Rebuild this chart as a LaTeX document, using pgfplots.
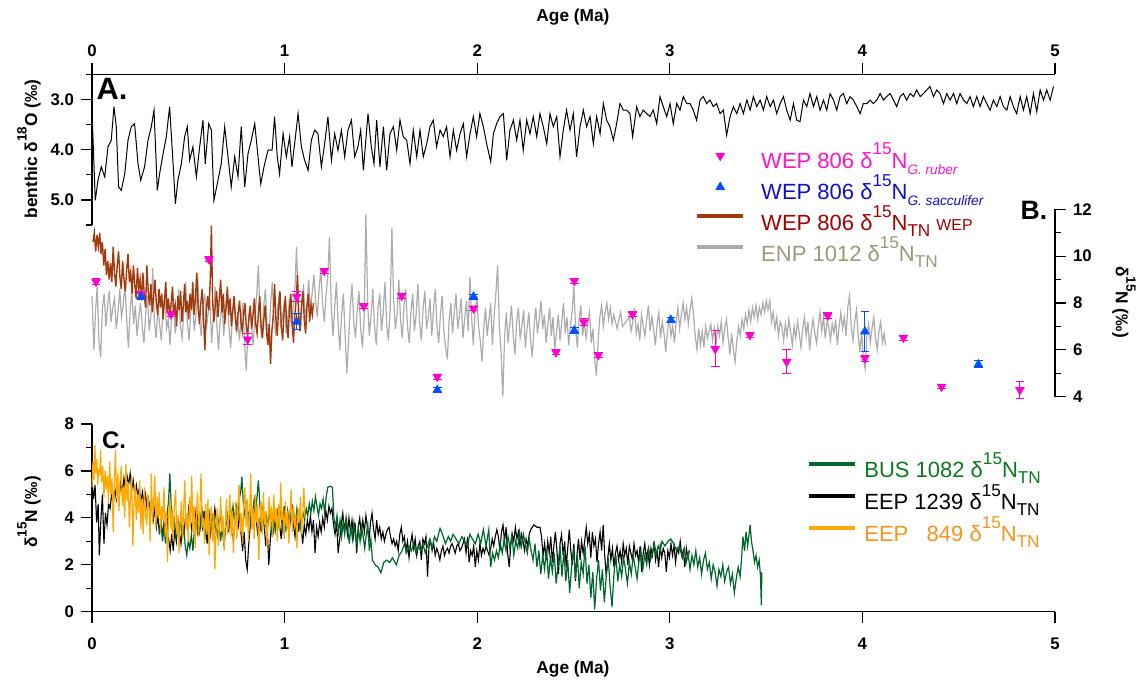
\documentclass[border=0pt]{standalone}
\usepackage{pgfplots}
\pgfplotsset{compat=1.18}
\usepackage{fontspec}
\setmainfont{Liberation Sans}
\usepackage{graphicx}
\definecolor{pinkc}{RGB}{255,0,204}
\definecolor{pinkt}{RGB}{255,20,200}
\definecolor{bluec}{RGB}{0,80,255}
\definecolor{bluet}{RGB}{16,16,200}
\definecolor{brownc}{RGB}{163,58,11}
\definecolor{brownt}{RGB}{165,0,0}
\definecolor{grayc}{RGB}{172,172,172}
\definecolor{grayt}{RGB}{154,154,120}
\definecolor{greenc}{RGB}{0,102,43}
\definecolor{greent}{RGB}{11,122,31}
\definecolor{orangec}{RGB}{255,168,0}
\definecolor{oranget}{RGB}{247,148,30}
\newcommand\su[1]{\raisebox{0.6em}{\scalebox{0.78}{#1}}}
\newcommand\sbb[1]{\raisebox{-0.28em}{\scalebox{0.78}{#1}}}
\newcommand\sbi[1]{\raisebox{-0.3em}{\scalebox{0.62}{\itshape #1}}}
\newcommand\lbl{\fontsize{8.65}{10}\selectfont\bfseries}
\newcommand\ticklbl{\fontsize{8.4}{10}\selectfont\bfseries}
\newcommand\legfont{\fontsize{11}{12}\selectfont}
\pgfplotsset{
  common/.style={scale only axis, width=481.5pt, xmin=0, xmax=5, clip=false,
    tick align=outside, major tick length=5.5pt, minor tick length=3pt,
    tick label style={font=\ticklbl},
    axis line style={line width=0.6pt,-}, every tick/.style={line width=0.6pt, black}},
  markleg/.style={legend image code/.code={\path[draw=none,fill=none] (0pt,3pt) -- (22.8pt,3pt); \draw[##1] plot coordinates {(11.4pt,3pt)};}},
  lineleg/.style={legend image code/.code={\draw[##1, line width=2pt] (0pt,#1) -- (22.8pt,#1);}},
}
\begin{document}
\begin{tikzpicture}
\useasboundingbox (0,0) rectangle (572.5pt,340.5pt);
% ---------------- Panel A (delta18O axis runs downward: plotted as -value) ----------------
\begin{axis}[common,
  at={(46pt,228pt)}, anchor=south west, height=75.25pt,
  ymin=-5.5, ymax=-2.5,
  axis x line*=top, axis y line*=left,
  xtick={0,1,2,3,4,5}, xticklabels={0,1,2,3,4,5},
  ytick={-5,-4,-3}, yticklabels={5.0,4.0,3.0}, minor ytick={-5.5,-4.5,-3.5,-2.5},
]
\addplot[black, line width=0.5pt, y filter/.expression={-y}] coordinates {
(0.000,3.24) (0.017,5.01) (0.031,4.61) (0.048,4.34) (0.066,4.54) (0.083,3.94) (0.100,3.81) (0.114,3.14) (0.126,3.54) (0.138,4.74) (0.152,4.81) (0.170,4.48) (0.187,3.81) (0.204,3.54) (0.221,3.48) (0.239,4.28) (0.253,4.61) (0.273,4.34) (0.291,3.81) (0.308,3.54) (0.322,3.21) (0.339,4.81) (0.351,4.48) (0.369,4.08) (0.386,3.74) (0.403,3.14) (0.421,4.28) (0.433,5.08) (0.446,4.61) (0.464,4.28) (0.481,3.74) (0.495,3.54) (0.507,4.21) (0.524,3.94) (0.542,4.54) (0.559,3.94) (0.576,3.41) (0.588,4.28) (0.606,3.48) (0.620,3.61) (0.633,5.01) (0.654,4.61) (0.671,4.28) (0.689,3.54) (0.706,4.14) (0.723,4.74) (0.741,4.14) (0.758,4.54) (0.775,3.54) (0.793,4.74) (0.810,4.08) (0.827,3.81) (0.845,3.48) (0.862,4.14) (0.876,4.68) (0.893,4.34) (0.914,4.01) (0.935,4.01) (0.948,3.34) (0.962,4.14) (0.974,4.48) (0.992,3.68) (1.009,4.14) (1.026,3.74) (1.038,4.34) (1.052,3.88) (1.070,3.28) (1.087,3.94) (1.104,4.21) (1.122,4.41) (1.139,3.81) (1.156,3.61) (1.173,3.68) (1.191,4.34) (1.208,3.88) (1.225,3.34) (1.243,4.21) (1.260,3.68) (1.277,4.01) (1.295,3.61) (1.312,4.14) (1.329,3.61) (1.347,3.41) (1.364,4.14) (1.381,3.94) (1.395,3.61) (1.409,4.41) (1.433,3.28) (1.450,3.94) (1.464,4.28) (1.478,3.41) (1.495,4.34) (1.513,3.54) (1.530,4.41) (1.547,3.68) (1.565,3.54) (1.582,4.01) (1.599,3.41) (1.616,3.74) (1.634,3.81) (1.651,4.28) (1.668,3.61)
(1.686,4.14) (1.703,3.61) (1.720,4.14) (1.738,3.88) (1.755,3.54) (1.772,3.41) (1.789,3.94) (1.807,3.61) (1.824,3.74) (1.841,3.54) (1.859,4.14) (1.876,3.61) (1.893,4.01) (1.911,3.68) (1.928,3.48) (1.945,4.14) (1.963,3.68) (1.980,3.34) (1.997,3.74) (2.014,3.28) (2.032,3.54) (2.049,3.88) (2.070,4.24) (2.084,3.68) (2.101,3.48) (2.118,3.34) (2.136,3.28) (2.153,4.21) (2.170,3.61) (2.188,3.41) (2.205,3.81) (2.222,3.41) (2.239,4.01) (2.257,3.41) (2.274,3.68) (2.291,3.34) (2.309,3.74) (2.326,3.28) (2.343,3.54) (2.361,3.88) (2.378,3.28) (2.395,3.54) (2.413,3.34) (2.430,4.14) (2.447,3.61) (2.464,3.21) (2.482,3.61) (2.499,3.28) (2.516,4.14) (2.534,3.54) (2.551,3.21) (2.568,3.54) (2.586,3.34) (2.603,3.88) (2.620,3.34) (2.638,3.68) (2.655,3.08) (2.672,3.41) (2.689,3.54) (2.707,3.81) (2.724,3.48) (2.741,3.08) (2.759,3.21) (2.776,3.21) (2.793,3.28) (2.807,3.74) (2.828,3.14) (2.845,3.34) (2.862,3.21) (2.880,3.28) (2.897,3.34) (2.914,3.21) (2.932,3.48) (2.949,2.94) (2.966,3.14) (2.984,3.34) (3.001,3.08) (3.018,3.48) (3.036,3.08) (3.053,3.21) (3.070,2.94) (3.088,3.08) (3.105,3.08) (3.122,3.21) (3.139,3.41) (3.157,3.01) (3.174,2.94) (3.191,3.08) (3.209,3.01) (3.226,3.14) (3.243,3.08) (3.261,3.28) (3.278,3.21) (3.295,3.71) (3.313,3.34)
(3.330,3.14) (3.348,3.28) (3.365,3.08) (3.382,3.28) (3.400,3.01) (3.417,3.21) (3.434,2.94) (3.451,3.14) (3.469,3.01) (3.486,3.21) (3.503,2.94) (3.521,3.14) (3.538,3.01) (3.555,3.28) (3.573,3.08) (3.590,2.94) (3.607,3.21) (3.625,3.41) (3.642,3.08) (3.659,3.41) (3.676,3.44) (3.694,3.01) (3.711,3.14) (3.728,2.88) (3.746,3.14) (3.763,2.94) (3.780,3.21) (3.798,3.01) (3.815,3.21) (3.832,2.88) (3.850,3.01) (3.867,3.21) (3.884,2.94) (3.901,2.88) (3.919,3.08) (3.936,2.94) (3.953,3.01) (3.971,3.14) (3.988,3.28) (4.005,3.08) (4.023,3.08) (4.040,3.01) (4.057,3.08) (4.075,3.01) (4.092,2.88) (4.109,3.01) (4.126,2.94) (4.144,2.88) (4.161,3.01) (4.178,3.14) (4.196,2.94) (4.213,2.88) (4.230,3.01) (4.248,2.88) (4.265,2.94) (4.282,2.81) (4.300,2.94) (4.317,2.88) (4.334,2.81) (4.351,2.74) (4.369,2.94) (4.386,2.81) (4.403,2.88) (4.421,3.08) (4.438,2.88) (4.455,3.01) (4.473,2.88) (4.490,3.08) (4.507,2.88) (4.525,3.01) (4.542,3.08) (4.559,2.94) (4.576,3.14) (4.594,2.94) (4.611,3.14) (4.628,2.94) (4.646,3.08) (4.663,3.21) (4.680,3.01) (4.698,3.14) (4.715,2.94) (4.732,3.14) (4.750,3.21) (4.767,2.94) (4.784,3.14) (4.801,3.28) (4.819,2.94) (4.836,3.21) (4.853,2.94) (4.871,3.28) (4.888,2.88) (4.905,3.24) (4.923,2.81) (4.940,3.01) (4.957,2.81) (4.975,3.01) (4.992,2.74)
};
\end{axis}
% ---------------- Panel B ----------------
\begin{axis}[common,
  at={(46pt,142.15pt)}, anchor=south west, height=93.7pt,
  ymin=4, ymax=12,
  axis x line=none, axis y line*=right,
  ytick={4,6,8,10,12}, yticklabels={4,6,8,10,12}, minor ytick={5,7,9,11},
  legend style={at={(0.6262,1.339)}, anchor=north west, draw=none, fill=none,
    font=\legfont, inner sep=0pt, row sep=0pt,
    nodes={inner sep=0pt, text height=11pt, text depth=4.6pt},
    /tikz/every odd column/.append style={column sep=8.1pt}},
  legend cell align=left,
  lineleg=4pt,
]
\addlegendimage{only marks, mark=triangle*, pinkc, mark size=2.4pt, mark options={rotate=180}, markleg}
\addlegendentry{\textcolor{pinkt}{WEP 806 δ\su{15}N\sbi{G. ruber}}}
\addlegendimage{only marks, mark=triangle*, bluec, mark size=2.4pt, markleg}
\addlegendentry{\textcolor{bluet}{WEP 806 δ\su{15}N\sbi{G. sacculifer}}}
\addlegendimage{brownc}
\addlegendentry{\textcolor{brownt}{WEP 806 δ\su{15}N\sbb{TN} \scalebox{0.72}{WEP}}}
\addlegendimage{grayc}
\addlegendentry{\textcolor{grayt}{ENP 1012 δ\su{15}N\sbb{TN}}}
% gray ENP 1012
\addplot[grayc, line width=0.6pt, forget plot] coordinates {
(0.000,8.3) (0.010,6.0) (0.018,7.6) (0.027,8.7) (0.036,6.4) (0.045,5.7) (0.054,7.8) (0.063,8.4) (0.072,7.0) (0.081,7.9) (0.090,8.5) (0.099,7.2) (0.108,7.8) (0.117,8.2) (0.126,6.9) (0.135,7.6) (0.144,8.6) (0.153,7.4) (0.162,7.9) (0.171,8.8) (0.180,7.3) (0.189,6.1) (0.198,7.7) (0.207,8.5) (0.216,7.1) (0.225,7.9) (0.234,6.6) (0.243,7.4) (0.252,8.0) (0.261,7.0) (0.270,6.3) (0.279,7.6) (0.288,8.3) (0.297,6.8) (0.306,7.5) (0.315,9.5) (0.324,7.2) (0.333,6.5) (0.342,7.8) (0.351,7.1) (0.360,6.4) (0.369,7.7) (0.378,8.4) (0.387,6.9) (0.396,7.3) (0.405,6.2) (0.414,7.5) (0.423,8.1) (0.432,6.7) (0.441,7.4) (0.450,8.6) (0.459,7.0) (0.468,6.5) (0.477,7.7) (0.486,8.9) (0.495,7.2) (0.504,6.4) (0.513,7.6) (0.522,8.2) (0.531,6.8) (0.540,7.5) (0.549,9.1) (0.558,7.3) (0.567,6.6) (0.576,7.9) (0.585,8.4) (0.594,6.9) (0.603,7.6) (0.612,8.1) (0.621,6.3) (0.630,7.4) (0.639,8.7) (0.648,7.1) (0.657,6.0) (0.666,7.3) (0.675,8.0) (0.684,6.6) (0.693,7.7) (0.702,8.5) (0.711,7.0) (0.720,6.1) (0.729,7.4) (0.738,8.2) (0.747,6.8) (0.756,7.6) (0.765,6.4) (0.774,7.2) (0.783,8.0) (0.792,6.3) (0.801,5.1) (0.810,6.9) (0.819,7.8) (0.828,7.0) (0.837,6.2) (0.846,7.5) (0.855,8.3) (0.864,9.6) (0.873,7.2) (0.882,6.5) (0.891,7.8) (0.900,8.6) (0.909,7.1) (0.918,6.4) (0.927,7.9) (0.936,8.9) (0.945,7.3) (0.954,6.6) (0.963,7.7) (0.972,8.4) (0.981,6.9) (0.990,7.5) (0.999,8.1) (1.008,6.7) (1.017,7.4) (1.026,8.2) (1.035,7.0) (1.044,7.8) (1.053,8.5) (1.062,10.4) (1.071,7.6) (1.080,6.8) (1.089,7.9) (1.098,8.8) (1.107,7.3) (1.116,8.0) (1.125,9.0) (1.134,7.7) (1.143,8.4) (1.152,9.2) (1.161,8.1) (1.170,7.4) (1.179,8.6) (1.188,9.4) (1.197,8.0) (1.206,7.2) (1.215,8.3) (1.224,9.1) (1.233,10.8) (1.242,7.9) (1.251,6.6) (1.260,7.8) (1.269,8.9) (1.278,7.1) (1.287,6.0) (1.296,7.5) (1.305,8.4) (1.314,6.7) (1.323,5.0) (1.332,6.4) (1.341,7.8) (1.350,8.8) (1.359,7.2) (1.368,6.5) (1.377,7.7) (1.386,8.5) (1.395,6.9) (1.404,6.1) (1.413,7.4) (1.422,11.8) (1.431,8.0) (1.440,6.6) (1.449,7.5) (1.458,8.6) (1.467,7.0) (1.476,6.2) (1.485,7.8) (1.494,8.4) (1.503,6.8) (1.512,7.6) (1.521,8.9) (1.530,7.1) (1.539,6.4) (1.548,7.7) (1.557,11.2) (1.566,8.2) (1.575,6.9) (1.584,7.5) (1.593,9.0) (1.602,7.3) (1.611,6.5) (1.620,7.9) (1.629,8.6) (1.638,7.0) (1.647,6.3) (1.656,7.6) (1.665,8.4) (1.674,6.8) (1.683,7.5) (1.692,8.8) (1.701,7.2) (1.710,6.4) (1.719,7.8) (1.728,8.5) (1.737,6.9) (1.746,7.4) (1.755,8.2) (1.764,6.6) (1.773,7.7) (1.782,8.6) (1.791,7.0) (1.800,6.3) (1.809,7.5) (1.818,8.3) (1.827,6.8) (1.836,6.1) (1.845,5.6) (1.854,7.2) (1.863,8.0) (1.872,6.7) (1.881,7.6) (1.890,8.4) (1.899,6.9) (1.908,7.5) (1.917,8.2) (1.926,6.5) (1.935,7.3) (1.944,8.1) (1.953,6.8) (1.962,9.1) (1.971,7.4) (1.980,6.2) (1.989,7.6) (1.998,8.3) (2.007,7.0) (2.016,6.4) (2.025,5.5) (2.034,6.9) (2.043,7.8) (2.052,6.6) (2.061,7.3) (2.070,8.0) (2.079,6.2) (2.088,7.5) (2.097,8.4) (2.106,9.6) (2.115,7.0) (2.124,5.9) (2.133,4.0) (2.142,6.5) (2.151,7.6) (2.160,6.3) (2.169,7.1) (2.178,7.9) (2.187,6.6) (2.196,5.8) (2.205,7.2) (2.214,7.8) (2.223,6.5) (2.232,7.0) (2.241,7.7) (2.250,6.1) (2.259,6.9) (2.268,7.6) (2.277,6.4) (2.286,5.7) (2.295,7.0) (2.304,7.8) (2.313,6.7) (2.322,7.3) (2.331,8.1) (2.340,6.9) (2.349,7.5) (2.358,6.3) (2.367,7.1) (2.376,7.8) (2.385,6.6) (2.394,7.4) (2.403,6.0) (2.412,6.8) (2.421,7.5) (2.430,6.4) (2.439,7.2) (2.448,8.0) (2.457,6.7) (2.466,7.4) (2.475,6.2) (2.484,7.0) (2.493,7.7) (2.502,8.7) (2.511,6.9) (2.520,6.1) (2.529,7.3) (2.538,7.9) (2.547,6.6) (2.556,7.2) (2.565,6.5) (2.574,7.1) (2.583,7.6) (2.592,6.3) (2.601,6.9) (2.610,5.6) (2.619,4.9) (2.628,6.4) (2.637,7.4) (2.646,7.9) (2.655,7.0) (2.664,7.6) (2.673,8.0) (2.682,7.3) (2.691,7.8) (2.700,7.1) (2.709,7.5) (2.718,7.2) (2.727,6.9) (2.736,7.3) (2.745,7.6) (2.754,7.0) (2.790,7.4) (2.799,6.8) (2.808,7.2) (2.817,7.8) (2.826,6.7) (2.835,7.1) (2.844,6.4) (2.853,7.5) (2.862,7.0) (2.871,6.6) (2.880,7.3) (2.889,7.9) (2.898,6.8) (2.907,7.4) (2.916,6.9) (2.925,6.2) (2.934,7.1) (2.943,7.6) (2.952,6.5) (2.961,7.2) (2.970,6.7) (2.979,5.9) (2.988,6.8) (2.997,7.4) (3.006,6.6) (3.015,7.0) (3.024,6.3) (3.033,7.2) (3.042,7.8) (3.051,6.9) (3.060,7.5) (3.069,8.0) (3.078,7.3) (3.087,7.8) (3.096,7.1) (3.105,7.7) (3.114,8.2) (3.123,7.5) (3.132,6.6) (3.141,6.0) (3.150,6.9) (3.159,6.2) (3.168,6.8) (3.177,6.1) (3.186,7.0) (3.195,6.5) (3.204,6.8) (3.213,7.1) (3.222,6.4) (3.231,6.9) (3.240,6.2) (3.249,7.0) (3.258,6.6) (3.267,7.2) (3.276,6.3) (3.285,6.9) (3.294,7.3) (3.303,6.5) (3.312,5.8) (3.321,6.7) (3.330,6.0) (3.339,5.5) (3.348,6.4) (3.357,7.0) (3.366,6.6) (3.375,7.3) (3.384,6.9) (3.393,7.5) (3.402,7.1) (3.411,7.7) (3.420,7.2) (3.429,7.8) (3.438,7.4) (3.447,7.9) (3.456,7.3) (3.465,7.8) (3.474,7.5) (3.483,8.0) (3.492,7.6) (3.501,8.1) (3.510,7.7) (3.519,8.1) (3.528,7.2) (3.537,7.6) (3.546,6.9) (3.555,7.4) (3.564,6.6) (3.573,7.2) (3.582,7.0) (3.591,6.4) (3.600,7.1) (3.609,6.6) (3.618,7.3) (3.627,6.8) (3.636,6.2) (3.645,7.0) (3.654,6.5) (3.663,7.2) (3.672,6.7) (3.681,6.1) (3.690,6.9) (3.699,7.4) (3.708,6.6) (3.717,7.2) (3.726,6.0) (3.735,6.8) (3.744,7.3) (3.753,6.7) (3.762,6.3) (3.771,7.0) (3.780,7.6) (3.789,6.8) (3.798,7.4) (3.807,6.5) (3.816,7.2) (3.825,7.0) (3.834,6.4) (3.843,7.1) (3.852,6.7) (3.861,7.3) (3.870,6.2) (3.879,7.0) (3.888,7.6) (3.897,6.9) (3.906,7.4) (3.915,6.6) (3.924,7.8) (3.933,8.3) (3.942,7.0) (3.951,6.4) (3.960,7.2) (3.969,7.7) (3.978,6.6) (3.987,5.9) (3.996,6.8) (4.005,5.6) (4.014,5.2) (4.023,6.6) (4.032,7.1) (4.041,6.3) (4.050,6.9) (4.059,7.4) (4.068,6.5) (4.077,6.0) (4.086,6.8) (4.095,7.2) (4.104,6.3) (4.113,6.7) (4.120,6.2)
};
% brown WEP 806 TN
\addplot[brownc, line width=0.7pt, forget plot] coordinates {
(0.005,10.6) (0.012,11.0) (0.019,10.2) (0.026,10.9) (0.033,10.4) (0.040,11.0) (0.047,10.1) (0.054,10.6) (0.061,9.6) (0.068,10.3) (0.075,9.2) (0.082,9.8) (0.089,9.0) (0.096,9.7) (0.103,8.9) (0.110,10.4) (0.117,9.3) (0.124,8.7) (0.131,9.6) (0.138,10.2) (0.145,9.1) (0.152,8.6) (0.159,9.8) (0.166,9.0) (0.173,8.5) (0.180,9.4) (0.187,10.1) (0.194,8.9) (0.201,9.3) (0.208,8.4) (0.215,9.6) (0.222,8.8) (0.229,8.2) (0.236,9.5) (0.243,8.6) (0.250,9.0) (0.257,8.1) (0.264,9.3) (0.271,8.4) (0.278,7.8) (0.285,9.6) (0.292,8.5) (0.299,7.9) (0.306,8.8) (0.313,7.6) (0.320,8.3) (0.327,9.0) (0.334,8.0) (0.341,7.5) (0.348,8.6) (0.355,7.8) (0.362,8.4) (0.369,7.3) (0.376,8.1) (0.383,8.9) (0.390,7.6) (0.397,8.2) (0.404,7.4) (0.411,8.0) (0.418,8.7) (0.425,7.5) (0.432,7.9) (0.439,7.0) (0.446,8.3) (0.453,7.7) (0.460,8.5) (0.467,7.2) (0.474,7.9) (0.481,8.8) (0.488,7.6) (0.495,8.1) (0.502,7.3) (0.509,8.4) (0.516,7.7) (0.523,8.9) (0.530,7.5) (0.537,8.2) (0.544,9.3) (0.551,7.8) (0.558,7.1) (0.565,8.0) (0.572,8.6) (0.579,7.4) (0.586,6.0) (0.593,7.6) (0.600,8.3) (0.607,7.7) (0.614,9.0) (0.620,11.3) (0.626,8.1) (0.633,7.2) (0.640,7.9) (0.647,8.5) (0.654,7.4) (0.661,8.2) (0.668,9.0) (0.675,7.6) (0.682,8.4) (0.689,7.1) (0.696,7.8) (0.703,8.7) (0.710,7.5) (0.717,8.2) (0.724,7.0) (0.731,7.7) (0.738,8.3) (0.745,7.3) (0.752,6.9) (0.759,7.6) (0.766,8.1) (0.773,7.2) (0.780,6.8) (0.787,7.5) (0.794,8.0) (0.801,7.0) (0.808,6.6) (0.815,7.4) (0.822,7.9) (0.829,6.9) (0.836,7.5) (0.843,8.2) (0.850,7.1) (0.857,6.7) (0.864,7.6) (0.871,8.3) (0.878,7.0) (0.885,6.5) (0.892,7.3) (0.899,7.9) (0.906,6.8) (0.913,6.2) (0.920,7.1) (0.927,5.4) (0.934,6.8) (0.941,7.5) (0.948,8.8) (0.955,7.3) (0.962,6.6) (0.969,7.8) (0.976,8.5) (0.983,7.0) (0.990,6.4) (0.997,7.6) (1.004,8.3) (1.011,7.1) (1.018,6.5) (1.025,7.7) (1.032,8.4) (1.039,7.2) (1.046,6.3) (1.053,7.5) (1.060,8.1) (1.067,9.2) (1.074,7.4) (1.081,6.8) (1.088,7.9) (1.095,8.5) (1.102,7.3) (1.109,6.7) (1.116,7.8) (1.123,8.4) (1.130,7.2) (1.137,7.9) (1.144,7.5) (1.150,8.0)
};
% pink G. ruber
\addplot[pinkc, only marks, mark=triangle*, mark size=2.4pt, mark options={rotate=180}, forget plot,
  error bars/.cd, y dir=both, y explicit, error bar style={pinkc, line width=0.5pt},
  error mark options={rotate=90, pinkc, mark size=2.2pt, line width=0.5pt}] coordinates {
(0.021,8.91) +- (0,0.12) (0.254,8.37) +- (0,0.12) (0.410,7.52) +- (0,0.10) (0.607,9.87) +- (0,0.10) (0.808,6.45) +- (0,0.23) (1.063,8.27) +- (0,0.20) (1.206,9.37) +- (0,0.10) (1.411,7.87) +- (0,0.10) (1.608,8.31) +- (0,0.10) (1.793,4.85) +- (0,0.10) (1.981,7.77) +- (0,0.10) (2.409,5.90) +- (0,0.10) (2.504,8.94) +- (0,0.10) (2.554,7.18) +- (0,0.15) (2.629,5.78) +- (0,0.12) (2.806,7.52) +- (0,0.10) (3.236,6.04) +- (0,0.77) (3.416,6.63) +- (0,0.10) (3.607,5.49) +- (0,0.51) (3.820,7.46) +- (0,0.12) (4.013,5.64) +- (0,0.12) (4.213,6.52) +- (0,0.10) (4.411,4.43) +- (0,0.10) (4.818,4.29) +- (0,0.36)
};
% blue G. sacculifer
\addplot[bluec, only marks, mark=triangle*, mark size=2.4pt, forget plot,
  error bars/.cd, y dir=both, y explicit, error bar style={bluec, line width=0.5pt},
  error mark options={rotate=90, bluec, mark size=2.2pt, line width=0.5pt}] coordinates {
(0.254,8.27) +- (0,0.12) (1.063,7.20) +- (0,0.34) (1.793,4.29) +- (0,0.10) (1.981,8.27) +- (0,0.10) (2.504,6.82) +- (0,0.12) (3.006,7.27) +- (0,0.10) (4.013,6.78) +- (0,0.87) (4.602,5.38) +- (0,0.15)
};
\end{axis}
% ---------------- Panel C ----------------
\begin{axis}[common,
  at={(46pt,34.65pt)}, anchor=south west, height=93.85pt,
  ymin=0, ymax=8,
  axis x line*=bottom, axis y line*=left,
  xtick={0,1,2,3,4,5}, xticklabels={0,1,2,3,4,5},
  xticklabel style={yshift=-4pt},
  ytick={0,2,4,6,8}, yticklabels={0,2,4,6,8}, minor ytick={1,3,5,7},
  legend style={at={(0.7422,0.8333)}, anchor=north west, draw=none, fill=none,
    font=\legfont, inner sep=0pt, row sep=0pt,
    nodes={inner sep=0pt, text height=11pt, text depth=4.9pt},
    /tikz/every odd column/.append style={column sep=3.8pt}},
  legend cell align=left,
  lineleg=3.7pt,
]
\addlegendimage{greenc}
\addlegendentry{\textcolor{greent}{BUS 1082 δ\su{15}N\sbb{TN}}}
\addlegendimage{black}
\addlegendentry{EEP 1239 δ\su{15}N\sbb{TN}}
\addlegendimage{orangec}
\addlegendentry{\textcolor{oranget}{EEP \hphantom{1}849 δ\su{15}N\sbb{TN}}}
% black EEP 1239
\addplot[black, line width=0.55pt, forget plot] coordinates {
(0.000,5.6) (0.008,4.8) (0.016,5.4) (0.024,3.8) (0.032,4.6) (0.038,2.4) (0.046,3.9) (0.054,5.0) (0.062,2.9) (0.070,4.2) (0.078,3.7) (0.086,4.6) (0.094,4.4) (0.102,5.0) (0.110,4.6) (0.118,5.3) (0.126,4.8) (0.134,5.4) (0.142,4.9) (0.150,5.6) (0.158,5.1) (0.166,5.7) (0.174,5.2) (0.182,5.8) (0.190,5.4) (0.198,5.9) (0.206,5.2) (0.214,5.6) (0.222,5.0) (0.230,5.4) (0.238,4.9) (0.246,5.3) (0.254,4.7) (0.262,5.1) (0.270,4.6) (0.278,5.0) (0.286,4.4) (0.294,4.8) (0.302,4.3) (0.310,4.7) (0.318,3.9) (0.326,4.4) (0.334,3.6) (0.342,4.1) (0.350,3.3) (0.358,3.9) (0.366,3.2) (0.374,3.8) (0.382,3.4) (0.390,4.0) (0.398,3.1) (0.406,2.6) (0.414,3.3) (0.422,2.6) (0.430,3.5) (0.438,3.0) (0.446,3.9) (0.454,3.4) (0.462,2.9) (0.470,3.7) (0.478,3.3) (0.486,4.1) (0.494,3.6) (0.502,4.4) (0.510,3.9) (0.518,3.5) (0.526,4.2) (0.534,3.7) (0.542,4.5) (0.550,3.8) (0.558,3.4) (0.566,4.1) (0.574,3.6) (0.582,4.3) (0.590,3.5) (0.598,2.9) (0.606,3.8) (0.614,3.3) (0.622,4.2) (0.630,3.6) (0.638,4.4) (0.646,3.9) (0.654,3.1) (0.662,3.7) (0.670,4.3) (0.678,3.5) (0.686,2.8) (0.694,3.6) (0.702,4.1) (0.710,3.4) (0.718,4.6) (0.726,3.7) (0.734,3.0) (0.742,3.9) (0.750,4.4) (0.758,3.5) (0.766,4.2) (0.774,3.3) (0.782,2.6) (0.790,3.4) (0.798,2.2) (0.806,1.8) (0.814,2.9) (0.822,3.7) (0.830,4.3) (0.838,3.6) (0.846,4.6) (0.854,3.8) (0.862,3.2) (0.870,4.0) (0.878,3.4) (0.886,4.5) (0.894,3.7) (0.902,2.8) (0.910,3.5) (0.918,2.0) (0.926,3.1) (0.934,3.9) (0.942,3.3) (0.950,4.2) (0.958,3.6) (0.966,4.4) (0.974,3.7) (0.982,3.1) (0.990,3.9) (0.998,4.5) (1.006,3.6) (1.014,4.1) (1.022,3.3) (1.030,3.9) (1.038,4.6) (1.046,3.7) (1.054,3.2) (1.062,4.0) (1.070,3.4) (1.078,4.2) (1.086,3.6) (1.094,2.9) (1.102,3.7) (1.110,3.3) (1.118,3.9) (1.126,3.5) (1.134,4.1) (1.142,3.4) (1.150,3.9) (1.158,2.5) (1.166,3.6) (1.174,3.2) (1.182,3.8) (1.190,3.4) (1.198,4.0) (1.206,3.6) (1.214,4.3) (1.222,3.9) (1.230,4.5) (1.238,4.2) (1.246,4.4) (1.254,3.7) (1.262,3.3) (1.270,3.8) (1.278,2.5) (1.286,3.1) (1.294,3.7) (1.302,4.2) (1.310,3.5) (1.318,3.9) (1.326,3.3) (1.334,4.0) (1.342,3.4) (1.350,3.9) (1.358,3.2) (1.366,3.8) (1.374,2.5) (1.382,3.6) (1.390,4.0) (1.398,3.3) (1.406,3.9) (1.414,3.4) (1.422,4.1) (1.430,3.6) (1.438,3.0) (1.446,3.8) (1.454,4.2) (1.462,3.5) (1.470,3.1) (1.478,3.9) (1.486,3.3) (1.494,3.6) (1.502,3.1) (1.510,3.4) (1.518,3.0) (1.526,3.3) (1.534,3.5) (1.542,3.6) (1.550,3.2) (1.558,2.9) (1.566,3.1) (1.574,2.8) (1.582,3.0) (1.590,2.6) (1.598,3.3) (1.606,3.6) (1.614,3.0) (1.622,3.2) (1.630,2.6) (1.638,3.0) (1.646,2.3) (1.654,2.9) (1.662,3.3) (1.670,2.7) (1.678,3.1) (1.686,2.4) (1.694,2.8) (1.702,3.0) (1.710,2.2) (1.718,3.1) (1.726,2.9) (1.734,3.2) (1.742,1.5) (1.750,2.8) (1.758,3.0) (1.766,2.6) (1.774,2.9) (1.782,2.4) (1.790,2.7) (1.798,2.5) (1.806,2.2) (1.814,2.6) (1.822,2.8) (1.830,2.4) (1.838,2.6) (1.846,2.7) (1.854,2.5) (1.862,2.8) (1.870,2.9) (1.878,2.7) (1.886,2.5) (1.894,2.8) (1.902,2.9) (1.910,2.6) (1.918,2.7) (1.926,2.9) (1.934,3.1) (1.942,2.5) (1.950,3.2) (1.958,2.1) (1.966,2.6) (1.974,2.4) (1.982,2.8) (1.990,1.9) (1.998,2.6) (2.006,2.2) (2.014,2.9) (2.022,2.4) (2.030,2.7) (2.038,2.5) (2.046,2.8) (2.054,2.6) (2.062,2.4) (2.070,2.7) (2.078,3.1) (2.086,2.8) (2.094,3.2) (2.102,3.5) (2.110,3.2) (2.118,2.6) (2.126,3.4) (2.134,3.7) (2.142,3.0) (2.150,3.6) (2.158,2.5) (2.166,1.9) (2.174,2.8) (2.182,3.3) (2.190,3.0) (2.198,3.6) (2.206,3.1) (2.214,3.4) (2.222,2.8) (2.230,3.3) (2.238,3.0) (2.246,2.6) (2.254,3.1) (2.262,2.8) (2.270,3.3) (2.278,3.5) (2.286,3.6) (2.294,3.7) (2.310,3.6) (2.326,3.6) (2.334,3.2) (2.342,2.4) (2.350,2.9) (2.358,2.2) (2.366,3.0) (2.374,2.5) (2.382,3.2) (2.390,2.1) (2.398,2.8) (2.406,3.4) (2.414,2.6) (2.422,1.6) (2.430,2.9) (2.438,3.3) (2.446,2.4) (2.454,3.0) (2.462,1.9) (2.470,2.7) (2.478,3.5) (2.486,2.6) (2.494,2.0) (2.502,2.9) (2.510,1.3) (2.518,2.4) (2.526,3.1) (2.534,2.2) (2.542,3.0) (2.550,2.5) (2.558,3.0) (2.566,3.6) (2.574,2.9) (2.582,3.3) (2.590,2.3) (2.598,3.4) (2.606,2.8) (2.614,3.1) (2.622,2.1) (2.630,2.9) (2.638,3.4) (2.646,2.6) (2.654,3.7) (2.662,2.4) (2.670,1.5) (2.678,2.3) (2.686,2.9) (2.694,2.2) (2.702,2.7) (2.710,1.9) (2.718,2.5) (2.726,2.8) (2.734,2.2) (2.742,2.6) (2.750,2.1) (2.758,2.9) (2.766,2.4) (2.774,2.7) (2.782,2.0) (2.790,2.8) (2.798,2.5) (2.806,2.2) (2.814,2.9) (2.822,2.4) (2.830,2.6) (2.838,2.1) (2.846,2.8) (2.854,1.7) (2.862,2.5) (2.870,2.9) (2.878,2.3) (2.886,2.6) (2.894,2.0) (2.902,2.7) (2.910,2.4) (2.918,3.0) (2.926,2.2) (2.934,2.6) (2.942,1.9) (2.950,2.8) (2.958,2.3) (2.966,2.7) (2.974,2.5) (2.982,1.7) (2.990,2.6) (2.998,2.3) (3.006,2.9) (3.014,2.4) (3.022,2.8) (3.030,2.1) (3.038,2.7) (3.046,2.5) (3.054,3.0) (3.062,2.4) (3.070,2.6) (3.078,1.9) (3.086,2.7) (3.094,2.3) (3.102,2.6)
};
% green BUS 1082
\addplot[greenc, line width=0.6pt, forget plot] coordinates {
(0.350,3.3) (0.358,3.9) (0.366,3.0) (0.374,3.6) (0.382,2.9) (0.390,4.1) (0.398,4.8) (0.404,5.9) (0.412,4.3) (0.420,3.5) (0.428,3.9) (0.436,3.2) (0.444,3.8) (0.452,3.4) (0.460,4.0) (0.468,3.1) (0.476,3.7) (0.484,2.8) (0.492,2.4) (0.500,3.0) (0.508,2.7) (0.516,3.3) (0.524,2.6) (0.532,3.5) (0.540,3.9) (0.548,3.4) (0.556,4.1) (0.564,3.6) (0.572,4.3) (0.580,3.8) (0.588,3.3) (0.596,4.0) (0.604,3.5) (0.612,4.2) (0.620,3.7) (0.628,3.1) (0.636,3.9) (0.644,3.4) (0.652,4.1) (0.660,3.6) (0.668,3.0) (0.676,3.8) (0.684,2.9) (0.692,3.5) (0.700,4.2) (0.708,3.7) (0.716,4.4) (0.724,3.9) (0.732,4.5) (0.740,3.8) (0.748,4.6) (0.756,4.0) (0.764,4.8) (0.772,5.1) (0.778,5.75) (0.786,4.6) (0.794,4.1) (0.802,4.7) (0.810,3.9) (0.818,4.4) (0.826,3.6) (0.834,4.2) (0.842,4.8) (0.850,4.3) (0.858,5.0) (0.864,5.6) (0.872,4.5) (0.880,3.8) (0.888,4.4) (0.896,3.5) (0.904,4.1) (0.912,3.6) (0.920,4.3) (0.928,3.8) (0.936,3.2) (0.944,4.0) (0.952,3.5) (0.960,4.2) (0.968,3.7) (0.976,4.4) (0.984,3.9) (0.992,3.4) (1.000,4.1) (1.008,3.6) (1.016,4.3) (1.024,3.8) (1.032,4.5) (1.040,3.9) (1.048,4.2) (1.056,3.7) (1.064,4.4) (1.072,4.0) (1.080,3.5) (1.088,4.0) (1.096,4.2) (1.104,3.9) (1.112,4.4) (1.120,4.1) (1.128,4.6) (1.136,4.2) (1.144,4.7) (1.152,4.3) (1.160,4.9) (1.168,4.5) (1.176,4.1) (1.184,4.6) (1.192,4.4) (1.200,4.8) (1.208,4.2) (1.216,4.9) (1.224,5.3) (1.236,5.35) (1.248,5.3) (1.256,4.0) (1.264,3.6) (1.272,4.1) (1.280,3.4) (1.288,3.9) (1.296,3.2) (1.304,3.8) (1.312,3.3) (1.320,4.0) (1.328,3.5) (1.336,2.9) (1.344,3.7) (1.352,3.1) (1.360,3.8) (1.368,3.4) (1.376,2.8) (1.384,3.5) (1.392,3.0) (1.400,3.6) (1.408,3.2) (1.416,2.7) (1.424,3.3) (1.432,3.7) (1.440,2.6) (1.448,3.1) (1.456,2.2) (1.470,2.0) (1.485,1.9) (1.500,1.66) (1.515,2.1) (1.530,2.2) (1.545,2.1) (1.560,2.3) (1.580,2.0) (1.595,2.4) (1.610,2.6) (1.622,2.9) (1.634,2.5) (1.646,2.8) (1.658,2.6) (1.670,2.9) (1.682,2.5) (1.694,2.8) (1.706,2.6) (1.718,2.9) (1.730,2.5) (1.742,2.8) (1.754,3.1) (1.766,2.7) (1.778,3.2) (1.790,3.0) (1.807,3.55) (1.820,3.3) (1.835,2.9) (1.850,3.2) (1.862,3.0) (1.875,3.3) (1.890,3.1) (1.905,2.9) (1.920,3.2) (1.935,3.0) (1.950,2.8) (1.962,3.3) (1.975,3.1) (1.990,2.9) (2.005,3.3) (2.018,2.9) (2.032,3.5) (2.046,2.8) (2.060,3.5) (2.070,1.9) (2.080,2.5) (2.090,2.2) (2.100,2.6) (2.110,2.3) (2.120,2.9) (2.130,2.5) (2.140,3.1) (2.150,2.6) (2.160,3.2) (2.170,2.7) (2.180,3.3) (2.190,2.4) (2.200,3.0) (2.210,2.7) (2.220,3.4) (2.230,2.8) (2.240,3.3) (2.250,2.9) (2.260,2.5) (2.270,3.1) (2.280,2.6) (2.290,2.2) (2.300,2.9) (2.310,1.9) (2.320,2.6) (2.330,1.6) (2.340,2.4) (2.350,1.8) (2.360,2.7) (2.370,1.4) (2.380,2.3) (2.390,1.7) (2.400,2.5) (2.410,1.2) (2.420,2.0) (2.430,2.8) (2.440,1.5) (2.450,2.6) (2.460,1.3) (2.470,2.2) (2.480,0.8) (2.490,1.9) (2.500,2.7) (2.510,1.4) (2.520,2.4) (2.530,1.0) (2.540,2.1) (2.550,1.6) (2.560,2.8) (2.570,1.2) (2.580,2.0) (2.590,0.6) (2.600,1.7) (2.610,0.1) (2.620,1.4) (2.630,2.2) (2.640,0.9) (2.650,1.8) (2.660,0.4) (2.670,1.5) (2.680,2.3) (2.690,1.1) (2.700,0.2) (2.710,1.6) (2.720,2.4) (2.730,1.3) (2.740,2.0) (2.750,1.5) (2.760,2.3) (2.770,1.8) (2.780,1.2) (2.790,2.1) (2.800,1.6) (2.810,2.4) (2.820,1.9) (2.830,1.4) (2.840,2.2) (2.850,2.6) (2.860,1.8) (2.870,2.4) (2.880,2.0) (2.890,2.7) (2.900,2.2) (2.910,2.5) (2.920,2.9) (2.930,2.4) (2.940,2.8) (2.950,2.6) (2.960,3.0) (2.975,2.8) (2.990,3.0) (3.005,3.1) (3.020,2.9) (3.035,2.6) (3.050,2.8) (3.065,2.3) (3.075,2.7) (3.085,2.1) (3.095,2.5) (3.105,1.8) (3.115,2.4) (3.125,2.0) (3.135,2.6) (3.145,1.9) (3.155,2.3) (3.165,1.6) (3.175,2.2) (3.185,2.5) (3.195,1.8) (3.205,2.1) (3.215,1.4) (3.225,2.0) (3.235,1.7) (3.245,1.1) (3.255,1.8) (3.265,1.5) (3.275,2.0) (3.285,1.3) (3.295,1.7) (3.305,1.9) (3.315,1.2) (3.325,1.6) (3.335,0.8) (3.345,1.4) (3.355,1.9) (3.365,1.5) (3.372,2.2) (3.380,3.2) (3.388,2.6) (3.396,3.4) (3.404,2.8) (3.410,3.2) (3.417,3.7) (3.424,3.0) (3.432,2.6) (3.440,2.1) (3.448,2.4) (3.456,1.9) (3.464,2.2) (3.471,1.5) (3.475,0.29) (3.478,1.7)
};
% orange EEP 849
\addplot[orangec, line width=0.6pt, forget plot] coordinates {
(0.000,5.3) (0.005,6.4) (0.010,5.6) (0.015,7.1) (0.020,5.9) (0.025,6.5) (0.030,5.4) (0.035,6.1) (0.040,5.8) (0.045,6.9) (0.050,5.5) (0.056,6.2) (0.062,4.9) (0.068,6.0) (0.074,5.2) (0.080,5.8) (0.086,4.6) (0.092,6.4) (0.098,5.0) (0.104,5.7) (0.110,3.4) (0.116,5.5) (0.122,6.9) (0.128,4.8) (0.134,5.9) (0.140,4.3) (0.146,5.6) (0.152,6.2) (0.158,4.5) (0.164,5.3) (0.170,4.0) (0.176,6.3) (0.182,4.7) (0.188,5.5) (0.194,3.6) (0.200,4.9) (0.206,5.8) (0.212,2.8) (0.218,4.6) (0.224,5.4) (0.230,3.9) (0.236,5.0) (0.242,4.2) (0.248,5.6) (0.254,3.5) (0.260,4.8) (0.266,3.3) (0.272,5.3) (0.278,4.1) (0.284,3.7) (0.290,5.0) (0.296,4.4) (0.302,3.0) (0.308,5.9) (0.314,3.8) (0.320,4.6) (0.326,5.8) (0.332,3.6) (0.338,4.9) (0.344,4.0) (0.350,5.1) (0.356,3.4) (0.362,4.5) (0.368,3.9) (0.374,5.3) (0.380,3.2) (0.386,4.3) (0.392,2.1) (0.398,4.0) (0.404,4.8) (0.410,3.5) (0.416,4.4) (0.422,3.0) (0.428,4.6) (0.434,5.2) (0.440,3.3) (0.446,4.1) (0.452,2.5) (0.458,3.8) (0.464,4.7) (0.470,3.1) (0.476,4.4) (0.482,5.6) (0.488,3.5) (0.494,4.2) (0.500,3.0) (0.506,4.9) (0.512,3.7) (0.518,5.8) (0.524,3.4) (0.530,4.5) (0.536,2.7) (0.542,4.1) (0.548,5.1) (0.554,3.2) (0.560,4.3) (0.566,5.9) (0.572,3.6) (0.578,4.0) (0.584,2.9) (0.590,4.6) (0.596,3.3) (0.602,4.8) (0.608,2.4) (0.614,3.9) (0.620,4.5) (0.626,3.0) (0.632,4.2) (0.638,1.8) (0.644,3.5) (0.650,4.4) (0.656,2.8) (0.662,3.8) (0.668,4.9) (0.674,3.4) (0.680,4.1) (0.686,2.6) (0.692,3.7) (0.698,4.8) (0.704,3.3) (0.710,4.0) (0.716,5.0) (0.722,3.2) (0.728,4.3) (0.734,2.5) (0.740,3.6) (0.746,4.7) (0.752,3.1) (0.758,4.6) (0.764,5.4) (0.770,3.4) (0.776,4.2) (0.782,2.9) (0.788,4.5) (0.794,5.3) (0.800,3.6) (0.806,4.8) (0.812,3.0) (0.818,4.1) (0.824,5.9) (0.830,3.5) (0.836,4.4) (0.842,3.1) (0.848,5.0) (0.854,3.8) (0.860,4.6) (0.866,2.2) (0.872,3.9) (0.878,4.7) (0.884,3.3) (0.890,5.1) (0.896,3.7) (0.902,4.3) (0.908,2.8) (0.914,4.0) (0.920,4.9) (0.926,3.6) (0.932,4.5) (0.938,3.2) (0.944,5.0) (0.950,3.8) (0.956,4.4) (0.962,3.0) (0.968,4.6) (0.974,3.5) (0.980,5.5) (0.986,3.9) (0.992,4.2) (0.998,3.1) (1.004,4.7) (1.010,3.6) (1.016,4.3) (1.022,2.9) (1.028,4.1) (1.034,5.2) (1.040,3.4) (1.046,4.5) (1.052,3.7) (1.058,4.0) (1.064,2.7) (1.070,4.4) (1.076,3.8) (1.082,4.9) (1.088,3.3) (1.094,4.2) (1.100,5.3) (1.106,4.0)
};
\end{axis}
% ---------------- labels ----------------
\node[font=\lbl] at (286.5pt,332pt) {Age (Ma)};
\node[font=\bfseries\fontsize{15.4}{16}\selectfont] at (56pt,296pt) {A.};
\node[font=\lbl, rotate=90] at (14.5pt,266pt) {benthic δ\su{18}O (‰)};
\node[font=\bfseries\fontsize{13.3}{14}\selectfont] at (517pt,235.5pt) {B.};
\node[font=\lbl, rotate=-90] at (562pt,189.5pt) {δ\su{15}N (‰)};
\node[font=\bfseries\fontsize{12}{13}\selectfont] at (57pt,120.5pt) {C.};
\node[font=\lbl, rotate=90] at (14.5pt,84.5pt) {δ\su{15}N (‰)};
\node[font=\lbl] at (286.5pt,6pt) {Age (Ma)};
\end{tikzpicture}
\end{document}
